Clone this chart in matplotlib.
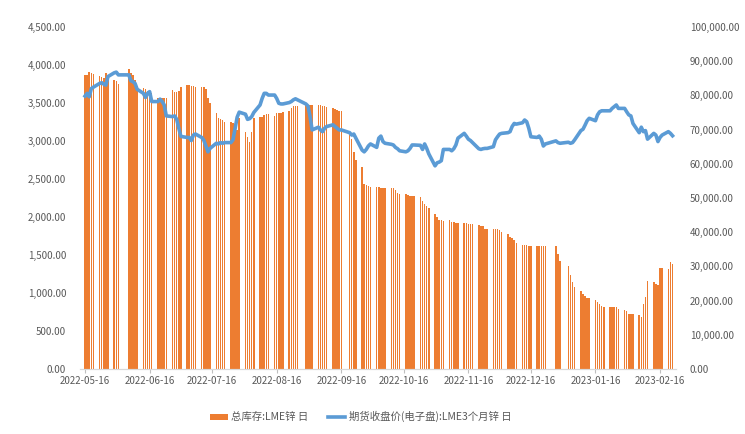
import matplotlib
matplotlib.use("Agg")
import matplotlib.pyplot as plt
import matplotlib.dates as mdates
from matplotlib.ticker import FuncFormatter
import pandas as pd

plt.rcParams["font.family"] = ["Noto Sans CJK SC", "DejaVu Sans"]

# LME trading days (weekdays minus UK holidays)
start_date = "2022-05-16"
end_date = "2023-02-22"
holidays = ["2022-06-02", "2022-06-03", "2022-08-29", "2022-09-19",
            "2022-12-26", "2022-12-27", "2023-01-02"]

# total stock, tonnes (left axis), one row per week
inventory = [
    3870, 3870, 3910, 3890, 3880,
    3855, 3840, 3830, 3895, 3870,
    3800, 3790, 3750,
    3950, 3900, 3870, 3800, 3720,
    3700, 3680, 3660, 3630, 3630,
    3560, 3560, 3560, 3570, 3560,
    3670, 3650, 3640, 3660, 3710,
    3740, 3740, 3720, 3720, 3715,
    3715, 3705, 3680, 3560, 3500,
    3370, 3300, 3290, 3270, 3250,
    3250, 3240, 3220, 3140, 3300,
    3120, 3050, 2990, 3120, 3300,
    3320, 3320, 3340, 3350, 3350,
    3330, 3370, 3370, 3370, 3380,
    3390, 3430, 3460, 3460, 3460,
    3470, 3470, 3470, 3470,
    3470, 3470, 3460, 3460, 3450,
    3440, 3420, 3410, 3400, 3390,
    3100, 3025, 2860, 2750,
    2660, 2430, 2420, 2410, 2400,
    2390, 2390, 2385, 2385, 2380,
    2380, 2380, 2360, 2310, 2300,
    2300, 2290, 2280, 2270, 2270,
    2260, 2210, 2170, 2140, 2120,
    2040, 2000, 1960, 1960, 1950,
    1960, 1930, 1930, 1925, 1920,
    1925, 1925, 1910, 1910, 1910,
    1895, 1880, 1880, 1840, 1840,
    1840, 1840, 1840, 1830, 1800,
    1775, 1740, 1720, 1700, 1660,
    1630, 1630, 1630, 1620, 1620,
    1620, 1620, 1620, 1620, 1620,
    1620, 1510, 1425,
    1355, 1240, 1150, 1080,
    1020, 990, 960, 930, 930,
    905, 880, 860, 835, 820,
    820, 820, 820, 820, 790,
    775, 760, 720, 720, 720,
    710, 690, 855, 945, 1160,
    1150, 1120, 1105, 1330, 1330,
    1315, 1410, 1380,
]

# 3-month close, electronic session (right axis)
price = [
    79800, 80600, 79600, 82000, 82400,
    83500, 83700, 83300, 83000, 85500,
    86600, 86800, 86000,
    86000, 84300, 84000, 83500, 81800,
    80600, 79400, 80600, 81100, 78200,
    78200, 78900, 78200, 77200, 74000,
    73800, 74000, 73000, 70400, 68000,
    67700, 67700, 66800, 68400, 68700,
    67700, 66900, 65200, 63500, 64500,
    66000, 65800, 66200, 66000, 66200,
    66200, 67000, 70200, 73600, 75100,
    74500, 73000, 73200, 73800, 75000,
    77200, 79100, 80600, 80600, 80100,
    80100, 79100, 77700, 77500, 77500,
    77900, 78200, 78700, 79000, 78700,
    77500, 76900, 73800, 69900,
    70700, 69900, 69400, 70400, 70900,
    71400, 70900, 70400, 69900, 69900,
    69100, 68400, 68700, 67500,
    64000, 63500, 64200, 65200, 65800,
    64800, 67500, 68100, 66500, 66000,
    65700, 65500, 64800, 64400, 63800,
    63500, 63800, 64500, 65500, 65500,
    65400, 64200, 65800, 64500, 62900,
    59400, 60300, 60500, 60900, 64200,
    64200, 63800, 64400, 65500, 67500,
    68900, 68100, 67200, 66800, 66200,
    64400, 64200, 64400, 64500, 64500,
    65000, 67000, 67900, 68700, 68900,
    69100, 69400, 70900, 71800, 71600,
    72000, 72800, 72300, 70400, 67900,
    67700, 68100, 67200, 65200, 65800,
    66700, 66200, 66000,
    66300, 66000, 66200, 67000,
    69700, 70100, 71300, 72600, 73300,
    72600, 74300, 75200, 75500, 75500,
    75500, 76200, 76700, 77200, 76200,
    76200, 75200, 74300, 74000, 71800,
    69100, 70700, 69400, 69700, 67200,
    68900, 68400, 66500, 67700, 68400,
    69400, 68900, 68200,
]

bar_label = "总库存:LME锌 日"
line_label = "期货收盘价(电子盘):LME3个月锌 日"
tick_dates = pd.date_range("2022-05-01", "2023-02-01", freq="MS") + pd.Timedelta(days=15)


def create_chart():
    days = pd.bdate_range(start_date, end_date)
    days = days[~days.isin(pd.to_datetime(holidays))]

    fig = plt.figure(figsize=(7.45, 4.34), dpi=100)
    ax = fig.add_axes([0.1074, 0.1498, 0.8, 0.788])
    ax2 = ax.twinx()

    bars = ax.bar(days, inventory, width=0.7, color="#ED7D31",
                  edgecolor="none", linewidth=0, label=bar_label)
    line, = ax2.plot(days, price, color="#5B9BD5", linewidth=2.6,
                     solid_joinstyle="round", label=line_label)

    ax.set_ylim(0, 4500)
    ax.set_yticks(range(0, 4501, 500))
    ax2.set_ylim(0, 100000)
    ax2.set_yticks(range(0, 100001, 10000))
    ax.set_xlim(pd.Timestamp("2022-05-13 14:00"), pd.Timestamp("2023-02-23 16:00"))
    ax.set_xticks(tick_dates)
    ax.xaxis.set_major_formatter(mdates.DateFormatter("%Y-%m-%d"))

    money = FuncFormatter(lambda v, p: f"{v:,.2f}")
    ax.yaxis.set_major_formatter(money)
    ax2.yaxis.set_major_formatter(money)

    for a in (ax, ax2):
        for side in ("top", "left", "right"):
            a.spines[side].set_visible(False)
        a.spines["bottom"].set_color("#D9D9D9")
        a.tick_params(colors="#595959", labelsize=7)
    ax.tick_params(axis="y", length=0, pad=10)
    ax2.tick_params(axis="y", length=0, pad=10)
    ax.tick_params(axis="x", length=3, color="#BFBFBF", pad=2)

    fig.legend(handles=[bars, line], loc="lower center", bbox_to_anchor=(0.484, 0.005),
               ncol=2, frameon=False, fontsize=7.5, labelcolor="#595959",
               columnspacing=1.9, handlelength=1.7, handleheight=0.5,
               handletextpad=0.3)

    fig.savefig("out.png", dpi=100)
    plt.close(fig)


if __name__ == "__main__":
    create_chart()
